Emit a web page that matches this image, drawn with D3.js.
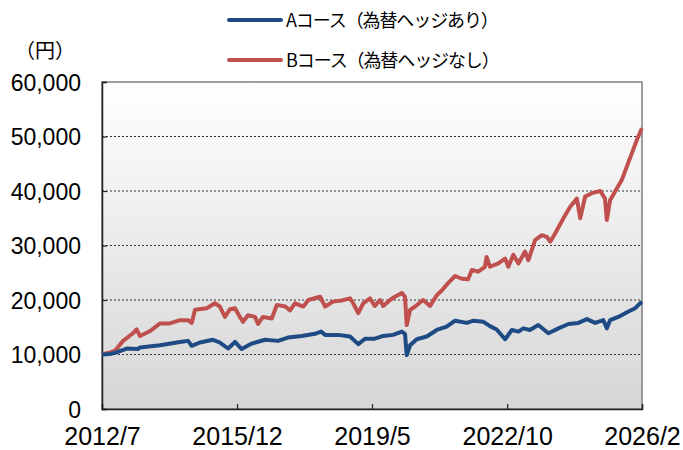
<!DOCTYPE html>
<html><head><meta charset="utf-8">
<script src="https://cdn.jsdelivr.net/npm/d3@7/dist/d3.min.js"></script>
<style>html,body{margin:0;padding:0;background:#fff;}svg{display:block;}</style>
</head><body>
<script>
// ---- data (values in thousands of yen) ----
const seriesNames = ["Aコース（為替ヘッジあり）", "Bコース（為替ヘッジなし）"];
const seriesColors = ["#1F4B85", "#C0504D"];
const yTicks = [0, 10000, 20000, 30000, 40000, 50000, 60000];
const xTickDates = ["2012-07-01", "2015-12-01", "2019-05-01", "2022-10-01", "2026-02-28"];
const xTickLabels = ["2012/7", "2015/12", "2019/5", "2022/10", "2026/2"];

const datesA = ["2012-07-01","2012-09-13","2012-10-29","2013-02-15","2013-05-28","2013-06-17","2013-12-19","2014-06-21","2014-09-04","2014-10-08","2014-12-23","2015-04-22","2015-06-25","2015-09-09","2015-11-12","2016-01-13","2016-04-14","2016-08-15","2016-12-14","2017-03-15","2017-07-20","2017-11-21","2018-01-16","2018-02-22","2018-06-23","2018-10-10","2018-12-25","2019-02-26","2019-05-27","2019-08-13","2019-11-12","2020-02-01","2020-03-01","2020-03-17","2020-04-17","2020-06-17","2020-09-18","2020-12-20","2021-03-21","2021-06-07","2021-09-23","2021-11-23","2022-02-24","2022-04-25","2022-06-26","2022-09-12","2022-11-13","2023-01-13","2023-02-28","2023-04-29","2023-07-16","2023-10-17","2024-01-18","2024-04-19","2024-07-20","2024-10-07","2024-12-22","2025-03-08","2025-04-09","2025-05-09","2025-07-24","2025-10-26","2025-12-27","2026-02-27"];
const valuesA = [10.0,10.1,10.3,11.1,11.0,11.3,11.7,12.3,12.5,11.6,12.2,12.7,12.2,11.1,12.3,11.0,12.0,12.7,12.5,13.1,13.4,13.8,14.2,13.6,13.6,13.3,11.9,12.9,12.9,13.4,13.6,14.2,13.8,9.9,11.7,12.8,13.3,14.5,15.1,16.2,15.8,16.2,16.0,15.2,14.6,12.8,14.5,14.2,14.8,14.5,15.4,13.9,14.8,15.6,15.8,16.5,15.8,16.3,14.8,16.3,16.9,17.9,18.5,19.7];

const datesB = ["2012-07-01","2012-09-13","2012-10-29","2013-01-12","2013-04-13","2013-05-17","2013-06-17","2013-09-18","2013-12-19","2014-03-20","2014-06-21","2014-09-04","2014-10-08","2014-11-08","2015-02-24","2015-05-10","2015-06-25","2015-08-11","2015-09-26","2015-11-12","2015-12-27","2016-01-25","2016-03-11","2016-05-15","2016-06-12","2016-07-27","2016-10-17","2016-12-03","2017-02-18","2017-04-04","2017-05-19","2017-08-05","2017-09-20","2018-01-07","2018-02-22","2018-05-06","2018-07-24","2018-10-10","2018-11-08","2018-12-25","2019-02-09","2019-04-12","2019-05-27","2019-07-13","2019-08-13","2019-10-15","2019-11-29","2020-02-01","2020-03-01","2020-03-17","2020-04-17","2020-06-03","2020-08-15","2020-10-19","2020-12-20","2021-02-06","2021-04-03","2021-06-07","2021-08-08","2021-10-05","2021-11-09","2022-01-06","2022-03-10","2022-03-25","2022-04-25","2022-07-11","2022-09-12","2022-10-12","2022-11-27","2023-01-13","2023-03-15","2023-04-15","2023-06-16","2023-08-17","2023-10-03","2023-11-03","2023-12-18","2024-03-04","2024-05-05","2024-07-06","2024-08-06","2024-09-21","2024-11-22","2025-02-08","2025-03-23","2025-04-09","2025-05-09","2025-06-24","2025-08-25","2025-10-11","2025-11-26","2026-01-12","2026-02-27"];
const valuesB = [10.0,10.4,10.7,12.5,13.9,14.6,13.4,14.3,15.7,15.7,16.3,16.3,15.8,18.2,18.5,19.4,18.8,16.9,18.3,18.5,16.9,16.0,17.2,16.9,15.6,16.9,16.6,19.1,18.8,18.1,19.4,18.8,20.0,20.6,18.8,19.7,19.9,20.3,19.4,17.6,19.4,20.3,18.9,20.0,18.9,20.0,20.6,21.3,20.6,15.4,18.2,18.8,20.0,18.9,20.9,21.8,23.1,24.4,23.9,23.8,25.5,25.2,26.1,27.9,26.1,26.7,27.6,26.1,28.3,26.7,28.9,27.3,31.0,31.9,31.6,30.7,32.2,35.0,37.1,38.6,35.0,39.0,39.6,40.0,38.6,34.7,38.3,39.9,42.0,44.5,46.9,49.4,51.5];

// ---- layout ----
const W = 683, H = 450;
const L = 102, R = 642, T = 82, B = 409;
const parse = d3.timeParse("%Y-%m-%d");

const svg = d3.select("body").append("svg").attr("width", W).attr("height", H);

const x = d3.scaleTime().domain([parse(xTickDates[0]), parse(xTickDates[xTickDates.length - 1])]).range([L, R]);
const y = d3.scaleLinear().domain([0, 60000]).range([B, T]);

const defs = svg.append("defs");
const grad = defs.append("linearGradient").attr("id", "bg").attr("x1", 0).attr("y1", 0).attr("x2", 0).attr("y2", 1);
grad.append("stop").attr("offset", "0%").attr("stop-color", "#ffffff");
grad.append("stop").attr("offset", "100%").attr("stop-color", "#d6d6d6");

svg.append("rect").attr("x", L).attr("y", T).attr("width", R - L).attr("height", B - T)
  .attr("fill", "url(#bg)").attr("stroke", "#7f7f7f").attr("stroke-width", 1.5);

// gridlines
svg.append("g").selectAll("line").data(yTicks.filter(v => v > 0 && v < 60000)).join("line")
  .attr("x1", L).attr("x2", R).attr("y1", d => y(d)).attr("y2", d => y(d))
  .attr("stroke", "#333").attr("stroke-width", 1).attr("stroke-dasharray", "2,2");

// y axis
const yAxis = d3.axisLeft(y).tickValues(yTicks).tickSize(-5).tickPadding(21)
  .tickFormat(d3.format(","));
const gy = svg.append("g").attr("transform", `translate(${L},0)`).call(yAxis);
gy.select(".domain").attr("stroke", "#222").attr("stroke-width", 1.5);
gy.selectAll(".tick line").attr("stroke", "#222").attr("stroke-width", 1.2);
gy.selectAll(".tick text").attr("font-family", "'Liberation Sans', Arial, sans-serif")
  .attr("font-size", 23).attr("fill", "#000").attr("dy", "0.36em");

// x axis
const xAxis = d3.axisBottom(x).tickValues(xTickDates.map(parse)).tickSize(-5).tickPadding(0)
  .tickFormat((d, i) => xTickLabels[i]);
const gx = svg.append("g").attr("transform", `translate(0,${B})`).call(xAxis);
gx.select(".domain").attr("stroke", "#222").attr("stroke-width", 1.5);
gx.selectAll(".tick line").attr("stroke", "#222").attr("stroke-width", 1.2);
gx.selectAll(".tick text").attr("font-family", "'Liberation Sans', Arial, sans-serif")
  .attr("font-size", 25).attr("fill", "#000").attr("y", 35.5).attr("dy", null);

// lines
const line = d3.line().x(d => x(d[0])).y(d => y(d[1] * 1000));
const dataA = datesA.map((d, i) => [parse(d), valuesA[i]]);
const dataB = datesB.map((d, i) => [parse(d), valuesB[i]]);
svg.append("path").datum(dataB).attr("d", line).attr("fill", "none")
  .attr("stroke", seriesColors[1]).attr("stroke-width", 4).attr("stroke-linejoin", "round");
svg.append("path").datum(dataA).attr("d", line).attr("fill", "none")
  .attr("stroke", seriesColors[0]).attr("stroke-width", 4).attr("stroke-linejoin", "round");

// unit label
svg.append("text").attr("x", 45).attr("y", 58).attr("text-anchor", "middle")
  .attr("font-family", "'Noto Sans CJK JP', sans-serif").attr("font-size", 20).text("（円）");

// legend
const leg = svg.append("g");
[20, 60].forEach((ly, i) => {
  leg.append("line").attr("x1", 229).attr("x2", 281).attr("y1", ly).attr("y2", ly)
    .attr("stroke", seriesColors[i]).attr("stroke-width", 4).attr("stroke-linecap", "round");
  leg.append("text").attr("x", 286).attr("y", ly + 7)
    .attr("font-family", "'Noto Sans CJK JP', sans-serif").attr("font-size", 18)
    .attr("letter-spacing", "-1.1px").text(seriesNames[i]);
});
</script>
</body></html>
